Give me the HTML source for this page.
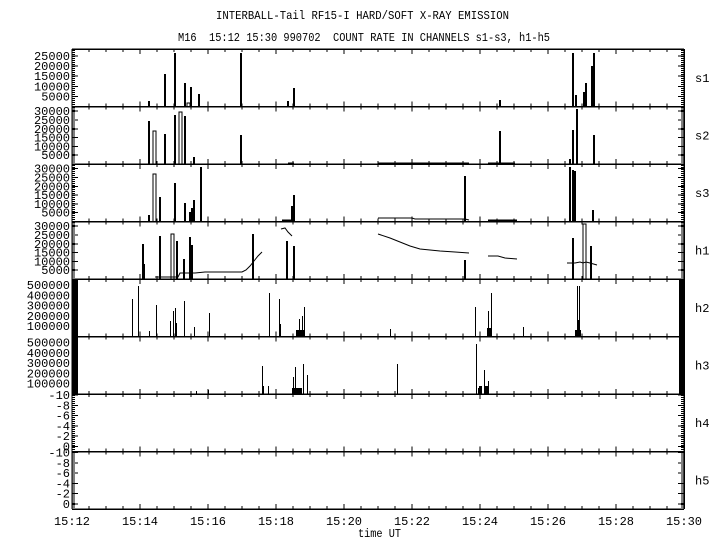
<!DOCTYPE html>
<html><head><meta charset="utf-8"><style>
html,body{margin:0;padding:0;background:#fff}
svg{display:block}
text{font-family:"Liberation Mono","DejaVu Sans Mono",monospace;font-size:12px;fill:#000;white-space:pre}
rect,line{shape-rendering:crispEdges}
</style></head><body>
<svg id="s" width="720" height="550" xmlns="http://www.w3.org/2000/svg">
<text x="216" y="19" textLength="293" lengthAdjust="spacingAndGlyphs" xml:space="preserve">INTERBALL-Tail RF15-I HARD/SOFT X-RAY EMISSION</text>
<text x="178" y="41" textLength="372" lengthAdjust="spacingAndGlyphs" xml:space="preserve">M16  15:12 15:30 990702  COUNT RATE IN CHANNELS s1-s3, h1-h5</text>
<text x="358" y="537" textLength="43" lengthAdjust="spacingAndGlyphs">time UT</text>
</svg>
<script>
var S=document.getElementById('s'),NS='http://www.w3.org/2000/svg';
function el(n,a,t){var e=document.createElementNS(NS,n);for(var k in a)e.setAttribute(k,a[k]);if(t)e.textContent=t;S.appendChild(e);return e;}
function ln(x1,y1,x2,y2,w){el('line',{x1:x1,y1:y1,x2:x2,y2:y2,stroke:'#000','stroke-width':w||1});}
var L=72,R=684,T=49,H=57.5;
var names=['s1','s2','s3','h1','h2','h3','h4','h5'];
var labs=[['25000','20000','15000','10000','5000'],['30000','25000','20000','15000','10000','5000'],['30000','25000','20000','15000','10000','5000'],['30000','25000','20000','15000','10000','5000'],['500000','400000','300000','200000','100000'],['500000','400000','300000','200000','100000'],['-10','-8','-6','-4','-2','0'],['-10','-8','-6','-4','-2','0']];
for(var i=0;i<8;i++){
 var y0=T+i*H,y1=y0+H;
 ln(L,y0,R,y0,1.5);
 el('text',{x:695,y:y0+H/2+4},names[i]);
 var lb=labs[i],n=lb.length;
 for(var j=0;j<n;j++){
  var yy;
  if(i==0) yy=y1-(5-j)*10.1;
  else if(i<4) yy=y1-(6-j)*8.8;
  else if(i<6) yy=y1-(5-j)*10.3;
  else yy=y0+1+j*10.3;
  el('text',{x:70,y:yy+4,'text-anchor':'end','font-size':'11'},lb[j]);
  if(i<4||i>=6){ln(L,yy,L+6,yy);ln(R-6,yy,R,yy);}
 }
 if(i==4||i==5){el('rect',{x:L,y:y0,width:6,height:H,fill:'#000'});el('rect',{x:R-5,y:y0,width:5,height:H,fill:'#000'});}
 else{for(var yy=y1;yy>y0;yy-=2){ln(L,yy,L+3,yy,0.8);ln(R-3,yy,R,yy,0.8);}}
 for(var k=0;k<=36;k++){var x=L+k*17,maj=k%4==0,d=maj?5:3;ln(x,y0-(i?d:0),x,y0+d,1);}
}
ln(L,T,L,T+8*H,1);ln(R,T,R,T+8*H,1.5);
ln(L,T+8*H,R,T+8*H,1.5);
for(var k=0;k<=36;k++){var x=L+k*17,d=k%4==0?5:3;ln(x,T+8*H-d,x,T+8*H);}
var tl=['15:12','15:14','15:16','15:18','15:20','15:22','15:24','15:26','15:28','15:30'];
for(var k=0;k<10;k++)el('text',{x:L+k*68,y:525,'text-anchor':'middle'},tl[k]);
function bars(i,list,w){var y1=T+(i+1)*H;list.forEach(function(b){
 if(b[2]) el('rect',{x:b[0]-1,y:b[1],width:3,height:y1-b[1],fill:'none',stroke:'#000','stroke-width':1});
 else el('rect',{x:Math.round(b[0]-(w||2)/2),y:b[1],width:(w||2),height:y1-b[1],fill:'#000'});});}
bars(0,[[149,101],[165,74],[175,53],[185,83],[188,103,1],[191,87],[199,94],[241,53],[288,101],[294,88],[500,100],[573,53],[576,95],[584,92],[586,83],[592,66],[594,53]]);
bars(1,[[149,121],[154,131,1],[165,134],[175,115],[180,112,1],[185,116],[194,157],[241,135],[500,131],[570,159],[573,130],[577,109],[594,135]]);
ln(378,163,469,163,1.5);ln(288,163,294,163,1.5);ln(488,163,515,163,1.5);
bars(2,[[149,215],[154,174,1],[160,197],[175,183],[185,203],[190,212],[192,208],[194,200],[201,167],[292,206],[294,195],[465,176],[570,167],[573,170],[575,171],[593,210]]);
el('polyline',{points:'378,218 412,218 415,219 465,219 469,220',fill:'none',stroke:'#000'});ln(488,220,517,220,1.5);ln(282,220,295,220,1.5);
bars(3,[[143,244],[144,264],[160,236],[172,234,1],[177,241],[184,259],[190,237],[192,245],[253,234],[287,241],[294,246],[465,260],[573,238],[584,224,1],[591,246]]);
el('polyline',{points:'155,277 178,277 180,273 195,273 205,272 225,272 242,272 246,270 250,266 254,261 258,256 262,252',fill:'none',stroke:'#000'});
el('polyline',{points:'281,229 285,228 288,232 292,236',fill:'none',stroke:'#000'});
el('polyline',{points:'378,234 390,238 400,242 410,246 420,249 440,251 455,252 469,253',fill:'none',stroke:'#000'});
el('polyline',{points:'488,256 498,256 505,258 517,259',fill:'none',stroke:'#000'});
el('polyline',{points:'567,263 575,263 580,262 583,263 586,262 590,263 597,265',fill:'none',stroke:'#000'});
bars(4,[[132,299,0],[138,286],[149,331],[156,305],[170,321],[173,311],[175,308],[176,323],[184,301],[194,327],[209,313],[269,293],[279,299],[280,324],[299,319],[302,316],[304,307],[390,329],[475,307],[488,311],[491,293],[523,327],[577,286],[579,286],[578,320]],1);
el('rect',{x:296,y:330,width:9,height:6,fill:'#000'});el('rect',{x:487,y:328,width:5,height:8,fill:'#000'});el('rect',{x:575,y:330,width:6,height:6,fill:'#000'});
bars(5,[[262,366],[263,386],[268,386],[293,377],[295,367],[303,364],[307,375],[397,364],[476,344],[478,388],[484,370],[488,381],[208,390],[196,391]],1);
el('rect',{x:292,y:388,width:10,height:5.5,fill:'#000'});el('rect',{x:479,y:386,width:3,height:7.5,fill:'#000'});el('rect',{x:485,y:386,width:4,height:7.5,fill:'#000'});
</script>
</body></html>
